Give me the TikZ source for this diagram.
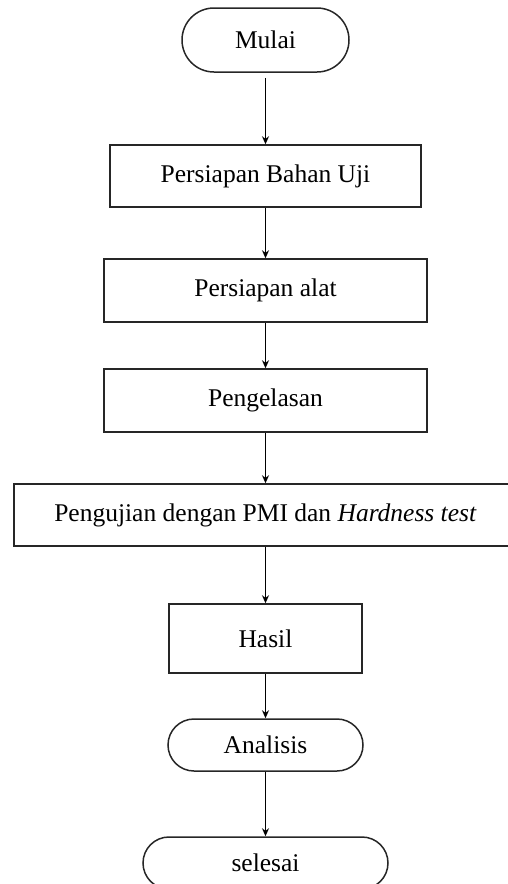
\documentclass[tikz,border=0pt]{standalone}
\usepackage{fontspec}
\setmainfont{Liberation Serif}
\usetikzlibrary{arrows.meta}
\begin{document}
\begin{tikzpicture}[x=1pt,y=-1pt,
  every node/.style={font=\fontsize{25.5}{30}\selectfont, inner sep=0pt, line width=1.5pt, draw=black!85},
  procbox/.style={rectangle},
  termbox/.style={rectangle, rounded corners=26pt},
  flowarrow/.style={line width=1.3pt, -{Stealth[length=8pt,width=7pt]}}
]
\useasboundingbox (0,0) rectangle (507,884);
\node[termbox, rounded corners=32pt, minimum width=167pt, minimum height=64pt] (mulai) at (265.5,40) {Mulai};
\node[procbox, minimum width=311pt, minimum height=62pt] (bahan) at (265.5,176) {Persiapan Bahan Uji};
\node[procbox, minimum width=323pt, minimum height=63pt] (alat) at (265.5,290.5) {Persiapan alat};
\node[procbox, minimum width=323pt, minimum height=63pt] (las) at (265.5,400.5) {Pengelasan};
\node[procbox, minimum width=503pt, minimum height=62pt] (uji) at (265.5,515) {Pengujian dengan PMI dan \textit{Hardness test}};
\node[procbox, minimum width=193pt, minimum height=69pt] (hasil) at (265.5,638.5) {Hasil};
\node[termbox, minimum width=195pt, minimum height=52pt] (analisis) at (265.5,745) {Analisis};
\node[termbox, minimum width=245pt, minimum height=52pt] (selesai) at (265.5,863) {selesai};
\draw[flowarrow, shorten <=5pt] (mulai) -- (bahan);
\draw[flowarrow] (bahan) -- (alat);
\draw[flowarrow] (alat) -- (las);
\draw[flowarrow] (las) -- (uji);
\draw[flowarrow] (uji) -- (hasil);
\draw[flowarrow] (hasil) -- (analisis);
\draw[flowarrow] (analisis) -- (selesai);
\end{tikzpicture}
\end{document}
